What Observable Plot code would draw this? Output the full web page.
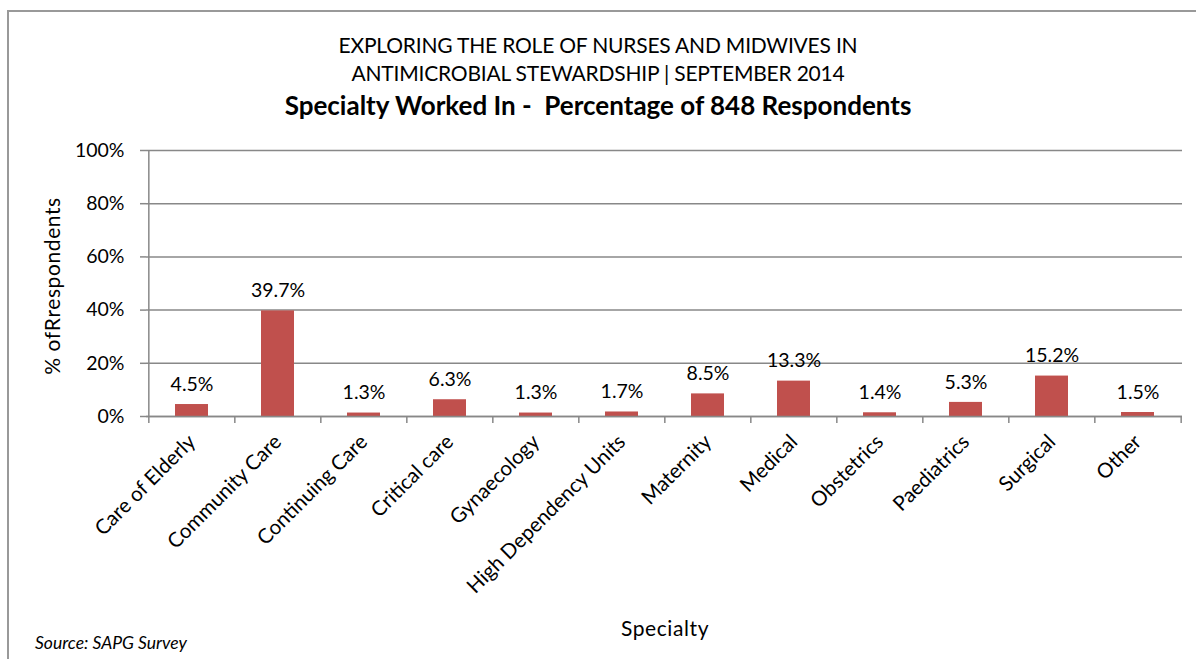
<!DOCTYPE html>
<html>
<head>
<meta charset="utf-8">
<script src="https://cdn.jsdelivr.net/npm/d3@7"></script>
<script src="https://cdn.jsdelivr.net/npm/@observablehq/plot@0.6"></script>
<style>
  html, body { margin: 0; padding: 0; background: #fff; }
  #wrap { position: relative; width: 1196px; height: 659px; overflow: hidden; font-family: Lato, "Open Sans", sans-serif; color: #000; }
  #frame { position: absolute; left: 7px; top: 10px; right: -4px; bottom: -4px; border-left: 2px solid #999; border-top: 2px solid #999; }
  .t { position: absolute; left: 0; width: 1196px; text-align: center; white-space: nowrap; line-height: 1; }
  #t1, #t2 { font-size: 21px; letter-spacing: -0.2px; }
  #t1 { top: 34px; }
  #t2 { top: 62px; }
  #t3 { top: 92px; font-size: 26px; font-weight: bold; }
  #chart { position: absolute; left: 0; top: 130px; }
  #ylab { position: absolute; left: 51px; top: 286px; transform: translate(-50%, -50%) rotate(-90deg); font-size: 21px; letter-spacing: 0.6px; white-space: nowrap; }
  #xlab { position: absolute; left: 665px; top: 627px; transform: translate(-50%, -50%); font-size: 21px; letter-spacing: 0.6px; }
  #src { position: absolute; left: 35px; top: 632px; font-size: 17.5px; font-style: italic; }
</style>
</head>
<body>
<div id="wrap">
  <div id="frame"></div>
  <div class="t" id="t1">EXPLORING THE ROLE OF NURSES AND MIDWIVES IN</div>
  <div class="t" id="t2">ANTIMICROBIAL STEWARDSHIP | SEPTEMBER 2014</div>
  <div class="t" id="t3">Specialty Worked In -&nbsp; Percentage of 848 Respondents</div>
  <div id="chart"></div>
  <div id="ylab">% ofRrespondents</div>
  <div id="xlab">Specialty</div>
  <div id="src">Source: SAPG Survey</div>
</div>
<script>
const categories = ["Care of Elderly", "Community Care", "Continuing Care", "Critical care", "Gynaecology", "High Dependency Units", "Maternity", "Medical", "Obstetrics", "Paediatrics", "Surgical", "Other"];
const percentages = [4.5, 39.7, 1.3, 6.3, 1.3, 1.7, 8.5, 13.3, 1.4, 5.3, 15.2, 1.5];
const yTicks = [0, 20, 40, 60, 80, 100];

const data = categories.map((c, i) => ({category: c, value: percentages[i]}));

const W = 1196, H = 529;
const mL = 146, mR = 14, mT = 20, mB = 243;
const bw = (W - mL - mR) / categories.length;
const last = categories[categories.length - 1];

const plot = Plot.plot({
  width: W,
  height: H,
  marginLeft: mL,
  marginRight: mR,
  marginTop: mT,
  marginBottom: mB,
  style: {fontFamily: "Lato, 'Open Sans', sans-serif", color: "#000", background: "transparent"},
  x: {domain: categories, paddingInner: 0.62, paddingOuter: 0.31, label: null},
  y: {domain: [0, 100], label: null},
  marks: [
    Plot.gridY(yTicks, {stroke: "#888", strokeOpacity: 1, strokeWidth: 1.5}),
    Plot.axisY(yTicks, {tickFormat: d => d + "%", tickSize: 6, tickPadding: 16, fontSize: 19.5, stroke: "#888", strokeWidth: 1.5, label: null}),
    Plot.ruleX([categories[0]], {x: d => d, dx: -bw / 2, y1: 0, y2: 100, stroke: "#888", strokeWidth: 1.5}),
    Plot.barY(data, {x: "category", y: "value", fill: "#C0504D"}),
    Plot.ruleY([0], {stroke: "#888", strokeWidth: 1.5}),
    Plot.ruleX(categories, {x: d => d, dx: -bw / 2, y1: 0, y2: 0, insetBottom: -7, stroke: "#888", strokeWidth: 1.5}),
    Plot.ruleX([last], {x: d => d, dx: bw / 2, y1: 0, y2: 0, insetBottom: -7, stroke: "#888", strokeWidth: 1.5}),
    Plot.axisX({tickSize: 0, tickRotate: -45, tickPadding: 22, fontSize: 20.5, label: null}),
    Plot.text(data, {x: "category", y: "value", text: d => d.value.toFixed(1) + "%", dy: -20, fontSize: 19.5, fill: "#000"})
  ]
});
document.getElementById("chart").appendChild(plot);
</script>
</body>
</html>
